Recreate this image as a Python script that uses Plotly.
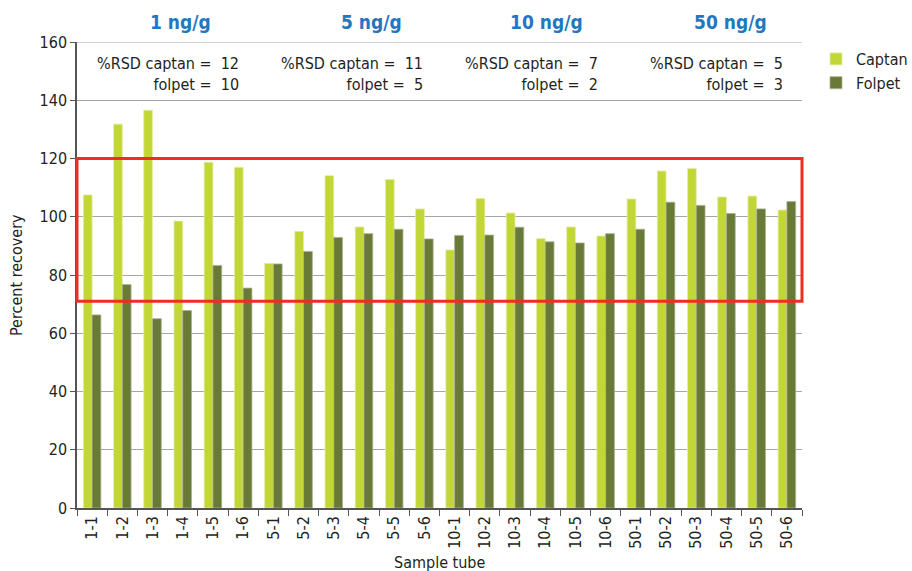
import plotly.graph_objects as go

categories = ["1-1", "1-2", "1-3", "1-4", "1-5", "1-6",
              "5-1", "5-2", "5-3", "5-4", "5-5", "5-6",
              "10-1", "10-2", "10-3", "10-4", "10-5", "10-6",
              "50-1", "50-2", "50-3", "50-4", "50-5", "50-6"]
captan = [107.5, 131.8, 136.6, 98.5, 118.7, 117.0,
          84.0, 95.0, 114.1, 96.5, 112.8, 102.7,
          88.6, 106.3, 101.3, 92.5, 96.5, 93.4,
          106.1, 115.7, 116.6, 106.8, 107.1, 102.3]
folpet = [66.3, 76.7, 65.0, 67.8, 83.3, 75.5,
          83.8, 88.1, 92.9, 94.2, 95.7, 92.4,
          93.6, 93.7, 96.4, 91.4, 91.0, 94.2,
          95.7, 105.0, 103.9, 101.1, 102.7, 105.2]
group_labels = ["1 ng/g", "5 ng/g", "10 ng/g", "50 ng/g"]
rsd_captan = ["12", "11", "7", "5"]
rsd_folpet = ["10", "5", "2", "3"]
y_ticks = [0, 20, 40, 60, 80, 100, 120, 140, 160]
accept_range = [71, 120]

FONT = "Liberation Sans Narrow, DejaVu Sans Condensed, Roboto, Arial, sans-serif"
TXT = "#231F20"
GRID = "#A6A6A6"

fig = go.Figure()
fig.add_trace(go.Bar(x=categories, y=captan, name="Captan",
                     marker=dict(color="#C2D636", line=dict(color="#E4EDA8", width=0.8))))
fig.add_trace(go.Bar(x=categories, y=folpet, name="Folpet",
                     marker=dict(color="#687A35", line=dict(color="#A9B093", width=0.8))))

fig.update_layout(
    width=912, height=571,
    margin=dict(l=77, r=110, t=42, b=63, autoexpand=False),
    paper_bgcolor="white", plot_bgcolor="white",
    barmode="group", bargap=0.42, bargroupgap=0,
    font=dict(family=FONT, size=16, color=TXT),
    showlegend=True,
    legend=dict(x=1.0193, y=1.0, xanchor="left", yanchor="top",
                font=dict(size=16, color=TXT), itemwidth=30,
                tracegroupgap=4, bgcolor="rgba(0,0,0,0)"),
)
fig.update_xaxes(
    type="category", tickangle=-90, tickson="boundaries",
    ticks="outside", ticklen=6, tickcolor="#555555",
    showline=True, linecolor="#555555", linewidth=1.5,
    showgrid=False, tickfont=dict(size=16, color=TXT),
    automargin=False,
)
fig.update_yaxes(
    range=[0, 160], tickvals=y_ticks,
    ticks="outside", ticklen=5, tickcolor="#555555",
    showline=True, linecolor="#555555", linewidth=1.5,
    showgrid=True, gridcolor=GRID, gridwidth=1.2,
    tickfont=dict(size=16, color=TXT), automargin=False,
)

# top gridline at the axis maximum
fig.add_shape(type="line", xref="paper", yref="y", x0=0, x1=1,
              y0=y_ticks[-1], y1=y_ticks[-1], line=dict(color=GRID, width=1.2))

# Acceptance window
fig.add_shape(type="rect", xref="paper", yref="y", x0=0, x1=1,
              y0=accept_range[0], y1=accept_range[1],
              line=dict(color="#EE2E24", width=3), fillcolor="rgba(0,0,0,0)")

# Group headers and RSD annotations
label_x = [2.91, 9.24, 15.03, 21.12]
rsd_x = [4.93, 11.02, 16.82, 22.94]
for i in range(4):
    fig.add_annotation(x=label_x[i], y=1.0, xref="x", yref="paper",
                       yanchor="middle", yshift=20,
                       text="<b>" + group_labels[i] + "</b>",
                       showarrow=False, font=dict(size=19, color="#1F78C1"))
    fig.add_annotation(x=rsd_x[i], y=149.0, xref="x", yref="y",
                       text="%RSD captan =  " + rsd_captan[i] + "<br>folpet =  " + rsd_folpet[i],
                       showarrow=False, xanchor="right", yanchor="middle", align="right",
                       font=dict(size=16, color=TXT))

fig.add_annotation(x=0.5, y=0, xref="paper", yref="paper",
                   xanchor="center", yanchor="middle", yshift=-54,
                   text="Sample tube", showarrow=False,
                   font=dict(size=16, color=TXT))
fig.add_annotation(x=0, y=0.5, xref="paper", yref="paper",
                   xanchor="center", yanchor="middle", xshift=-61,
                   text="Percent recovery", showarrow=False, textangle=-90,
                   font=dict(size=16, color=TXT))

fig.write_html("out.html", config={"displayModeBar": False},
               post_script="document.body.style.margin='0';")
